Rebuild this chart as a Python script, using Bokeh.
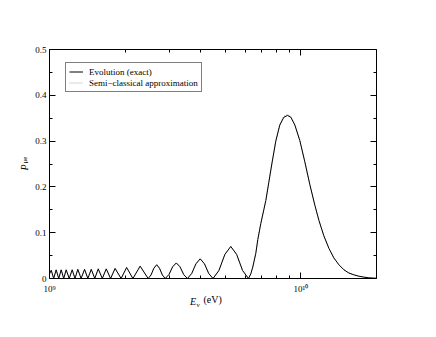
import math
from bokeh.plotting import figure
from bokeh.models import (Range1d, FixedTicker, LogAxis, LinearAxis, CustomJSTickFormatter,
                          Legend, LegendItem, Label, ColumnDataSource)
from bokeh.embed import file_html
from bokeh.resources import INLINE

# ---- data ----
energy_gev = [
    1.000, 1.016, 1.039, 1.063, 1.088, 1.113, 1.139, 1.165, 1.198, 1.231,
    1.263, 1.296, 1.336, 1.379, 1.421, 1.466, 1.514, 1.563, 1.622, 1.682,
    1.750, 1.824, 1.927, 2.027, 2.147, 2.294, 2.469, 2.534, 2.602, 2.670,
    2.739, 2.813, 2.886, 2.986, 3.089, 3.195, 3.306, 3.420, 3.538, 3.680,
    3.825, 3.977, 4.137, 4.300, 4.473, 4.722, 4.985, 5.262, 5.555, 5.864,
    6.190, 6.322, 6.439, 6.619, 6.742, 6.930, 7.123, 7.255, 7.458, 7.666,
    7.950, 8.247, 8.555, 8.851, 9.125, 9.465, 9.909, 10.37, 10.86, 11.37,
    11.80, 12.35, 12.93, 13.53, 14.17, 14.84, 15.53, 16.26, 17.02, 17.82,
    18.66, 20.0,
]
p_exact = [
    0.010, 0.018, 0.000, 0.019, 0.000, 0.019, 0.000, 0.019, 0.000, 0.019,
    0.000, 0.020, 0.000, 0.020, 0.000, 0.020, 0.000, 0.021, 0.000, 0.021,
    0.000, 0.022, 0.000, 0.024, 0.000, 0.027, 0.000, 0.0075, 0.0225, 0.030,
    0.0225, 0.0075, 0.000, 0.0085, 0.0255, 0.034, 0.0255, 0.0085, 0.000, 0.011,
    0.032, 0.043, 0.032, 0.011, 0.000, 0.0175, 0.0525, 0.070, 0.0525, 0.0175,
    0.000, 0.010, 0.025, 0.055, 0.085, 0.120, 0.150, 0.170, 0.210, 0.250,
    0.300, 0.335, 0.352, 0.356, 0.352, 0.335, 0.301, 0.255, 0.205, 0.160,
    0.127, 0.093, 0.066, 0.045, 0.030, 0.019, 0.012, 0.008, 0.005, 0.003,
    0.0015, 0.0005,
]
p_semiclassical = [
    0.010, 0.018, 0.000, 0.019, 0.000, 0.019, 0.000, 0.019, 0.000, 0.019,
    0.000, 0.020, 0.000, 0.020, 0.000, 0.020, 0.000, 0.021, 0.000, 0.021,
    0.000, 0.022, 0.000, 0.024, 0.000, 0.027, 0.000, 0.0075, 0.0225, 0.030,
    0.0225, 0.0075, 0.000, 0.0085, 0.0255, 0.034, 0.0255, 0.0085, 0.000, 0.011,
    0.032, 0.043, 0.032, 0.011, 0.000, 0.0175, 0.0525, 0.070, 0.0525, 0.0175,
    0.000, 0.010, 0.025, 0.055, 0.085, 0.120, 0.150, 0.170, 0.210, 0.250,
    0.301, 0.337, 0.354, 0.358, 0.354, 0.337, 0.302, 0.255, 0.205, 0.160,
    0.127, 0.093, 0.066, 0.045, 0.030, 0.019, 0.012, 0.008, 0.005, 0.003,
    0.0015, 0.0005,
]
x_major_ticks = [1e9, 1e10]
x_minor_ticks = [2e9, 3e9, 4e9, 5e9, 6e9, 7e9, 8e9, 9e9, 2e10]
y_major_ticks = [0.0, 0.1, 0.2, 0.3, 0.4, 0.5]
y_minor_ticks = [0.05, 0.15, 0.25, 0.35, 0.45]
legend_labels = ["Evolution (exact)", "Semi\u2212classical approximation"]

energy_ev = [e * 1e9 for e in energy_gev]

FONT = "Liberation Serif"
W, H = 428, 329

p = figure(width=W, height=H, x_axis_type="log", output_backend="svg",
           toolbar_location=None, x_range=Range1d(1e9, 2e10), y_range=Range1d(0, 0.5),
           min_border_left=49, min_border_right=52, min_border_top=49, min_border_bottom=51)
p.outline_line_color = None
p.grid.visible = False
p.background_fill_color = "white"
p.border_fill_color = "white"

src = ColumnDataSource(dict(x=energy_ev, y=p_exact, ys=p_semiclassical))
r_semi = p.line("x", "ys", source=src, line_color="#aaaaaa", line_width=1, line_dash="1 1")
r_exact = p.line("x", "y", source=src, line_color="black", line_width=1)

xfmt = CustomJSTickFormatter(code="""
if (Math.abs(tick - 1e9) < 1) return '10\u2079';
if (Math.abs(tick - 1e10) < 1) return '10\u00b9\u2070';
return '';
""")
yfmt = CustomJSTickFormatter(code="return tick == 0 ? '0' : tick.toFixed(1);")
blank = CustomJSTickFormatter(code="return '';")

def style(ax, fmt):
    ax.axis_line_color = "black"
    ax.axis_line_width = 1
    ax.major_tick_in = 6
    ax.major_tick_out = 0
    ax.minor_tick_in = 3
    ax.minor_tick_out = 0
    ax.major_tick_line_color = "black"
    ax.minor_tick_line_color = "black"
    ax.formatter = fmt
    ax.major_label_text_font = FONT
    ax.major_label_text_font_size = "9px"
    ax.major_label_text_color = "black"

xb = p.xaxis[0]
xb.ticker = FixedTicker(ticks=x_major_ticks, minor_ticks=x_minor_ticks)
style(xb, xfmt)
xb.major_label_standoff = 5

yl = p.yaxis[0]
yl.ticker = FixedTicker(ticks=y_major_ticks, minor_ticks=y_minor_ticks)
style(yl, yfmt)
yl.major_label_standoff = 3

xt = LogAxis(ticker=FixedTicker(ticks=x_major_ticks, minor_ticks=x_minor_ticks))
style(xt, blank)
p.add_layout(xt, "above")
yr = LinearAxis(ticker=FixedTicker(ticks=y_major_ticks, minor_ticks=y_minor_ticks))
style(yr, blank)
p.add_layout(yr, "right")

legend = Legend(items=[LegendItem(label=legend_labels[0], renderers=[r_exact]),
                       LegendItem(label=legend_labels[1], renderers=[r_semi])],
                location=(16, 186), orientation="vertical")
legend.border_line_color = "black"
legend.border_line_width = 1
legend.background_fill_color = "white"
legend.background_fill_alpha = 1
legend.label_text_font = FONT
legend.label_text_font_size = "9px"
legend.label_text_color = "black"
legend.glyph_width = 14
legend.glyph_height = 11
legend.label_height = 11
legend.label_standoff = 6
legend.spacing = 0
legend.padding = 3
legend.margin = 0
p.add_layout(legend, "center")

def lab(text, x, y, size, side, italic=False, angle=0.0):
    p.add_layout(Label(x=x, y=y, x_units="screen", y_units="screen", text=text,
                       text_font=FONT, text_font_size=size, angle=angle,
                       text_font_style="italic" if italic else "normal",
                       text_baseline="alphabetic", text_align="left", text_color="black"), side)

# x axis title: E_nu (eV)  (each label sits in its own stacked panel below the x axis)
lab("E", 140.5, 6, "10px", "below", italic=True)
lab("\u03bd", 147, 11, "7px", "below")
lab("(eV)", 154, 27, "10px", "below")
# y axis title: P_mu e (rotated, panels left of the y axis)
lab("P", 3, 108, "10px", "left", italic=True, angle=math.pi / 2)
lab("\u03bce", 11, 115, "7px", "left", angle=math.pi / 2)

open("out.html", "w").write(file_html(p, INLINE))
